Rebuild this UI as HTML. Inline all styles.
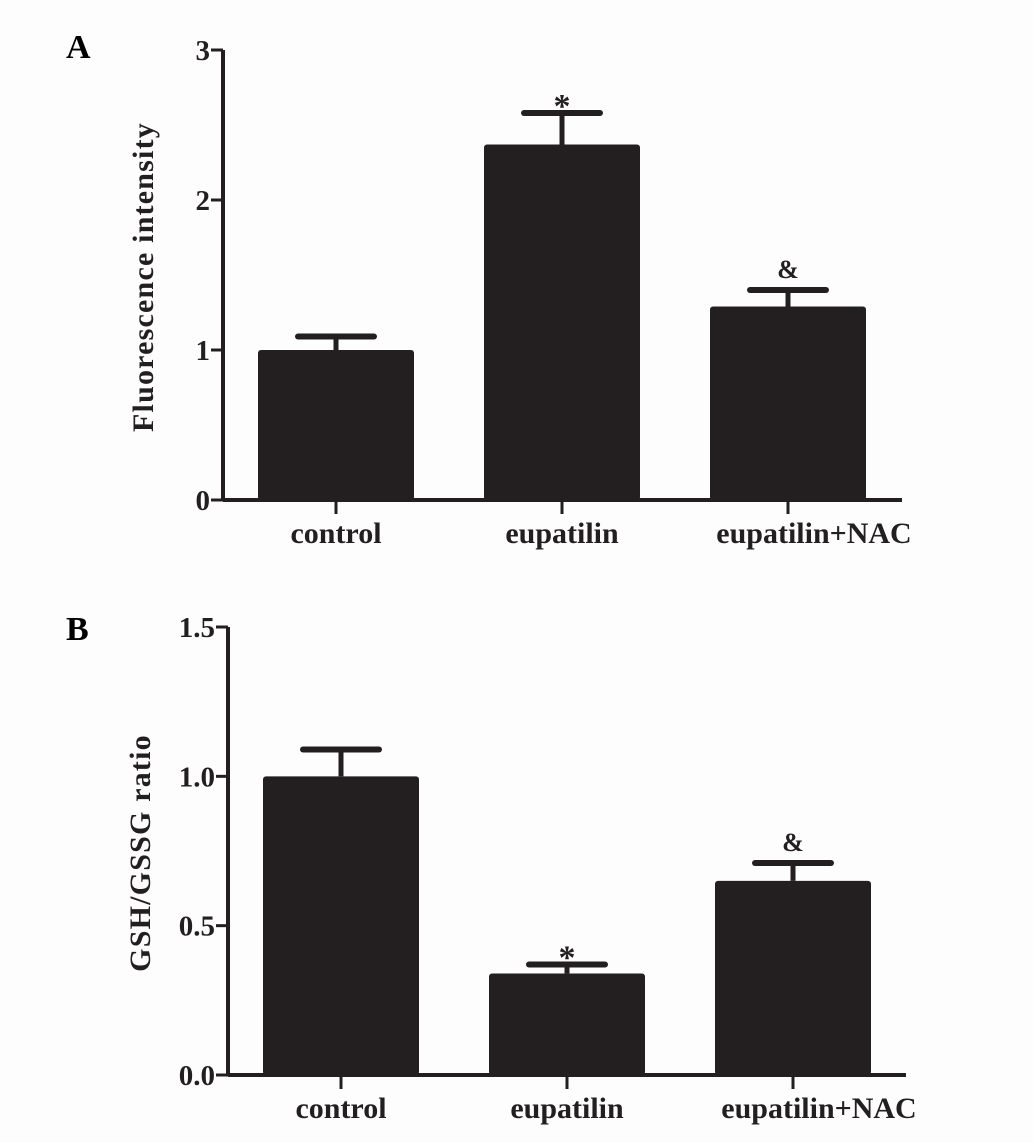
<!DOCTYPE html>
<html><head><meta charset="utf-8"><style>
body{margin:0;background:#fdfdfd;}
svg{display:block;font-family:"Liberation Serif",serif;font-weight:bold;}
</style></head><body>
<svg id="c" width="1033" height="1143"></svg>
<script>
const categories=["control","eupatilin","eupatilin+NAC"];
const valuesA=[1.0,2.37,1.29];
const errorsA=[0.09,0.21,0.11];
const marksA=["","*","&"];
const ticksA=["0","1","2","3"];
const tickValsA=[0,1,2,3];
const valuesB=[1.0,0.34,0.65];
const errorsB=[0.09,0.03,0.06];
const marksB=["","*","&"];
const ticksB=["0.0","0.5","1.0","1.5"];
const tickValsB=[0,0.5,1.0,1.5];
const NS="http://www.w3.org/2000/svg";
const svg=document.getElementById('c');
function el(t,a,p){const e=document.createElementNS(NS,t);for(const k in a)e.setAttribute(k,a[k]);(p||svg).appendChild(e);return e;}
function panel(o){
  const g=el('g',{});
  
  
  const y=v=>o.y0-(v/o.max)*(o.y0-o.yTop);
  const cx=i=>o.x0+o.firstC+i*o.step;
  const fg="#231f20";
  let ax=el('line',{x1:o.x0,y1:o.yTop,x2:o.x0,y2:o.y0,stroke:fg,'stroke-width':4},g);
  
  let xa=el('line',{x1:o.x0,y1:o.y0,x2:o.xEnd,y2:o.y0,stroke:fg,'stroke-width':4},g);
  
  o.tickVals.forEach((v,i)=>{
    el('line',{x1:o.x0-12,y1:y(v),x2:o.x0,y2:y(v),stroke:fg,'stroke-width':3},g);
    const t=el('text',{x:o.x0-13,y:y(v)+10,'text-anchor':'end','font-size':29,fill:fg},g);
    t.textContent=o.ticks[i];
    
  });
  o.values.forEach((v,i)=>{
    const c=cx(i);
    const b=el('rect',{x:c-78,y:y(v),width:156,height:o.y0-y(v),fill:fg,rx:3},g);
    
    const ye=y(v+o.errors[i]);
    el('line',{x1:c,y1:y(v),x2:c,y2:ye,stroke:fg,'stroke-width':5},g);
    const cap=el('line',{x1:c-38,y1:ye,x2:c+38,y2:ye,stroke:fg,'stroke-width':6,'stroke-linecap':'round'},g);
    
    if(o.marks[i]){const star=o.marks[i]=="*";const m=el('text',{x:c,y:ye-(star?-4:12),'text-anchor':'middle','font-size':star?34:26,fill:fg},g);m.textContent=o.marks[i];
      }
    el('line',{x1:c,y1:o.y0,x2:c,y2:o.y0+14,stroke:fg,'stroke-width':3},g);
    const l=el('text',{x:c+(i==2?26:0),y:o.y0+43,'text-anchor':'middle','font-size':30,fill:fg},g);
    l.textContent=categories[i];
    
  });
  const yt=el('text',{x:0,y:0,'text-anchor':'middle','font-size':30,'letter-spacing':1.2,fill:fg,transform:`translate(${o.titleX},${(o.yTop+o.y0)/2+2}) rotate(-90)`},g);
  yt.textContent=o.title;
  
  const pl=el('text',{x:o.labelX,y:o.labelY,'font-size':34,fill:"#000"},g);
  pl.textContent=o.label;
  
}
panel({name:'panel-a',x0:223,y0:500,yTop:50,xEnd:902,max:3,firstC:113,step:226,values:valuesA,errors:errorsA,marks:marksA,ticks:ticksA,tickVals:tickValsA,title:'Fluorescence intensity',titleX:153,label:'A',labelX:66,labelY:58});
panel({name:'panel-b',x0:228,y0:1075,yTop:627,xEnd:906,max:1.5,firstC:113,step:226,values:valuesB,errors:errorsB,marks:marksB,ticks:ticksB,tickVals:tickValsB,title:'GSH/GSSG ratio',titleX:150,label:'B',labelX:66,labelY:640});
</script>
</body></html>
